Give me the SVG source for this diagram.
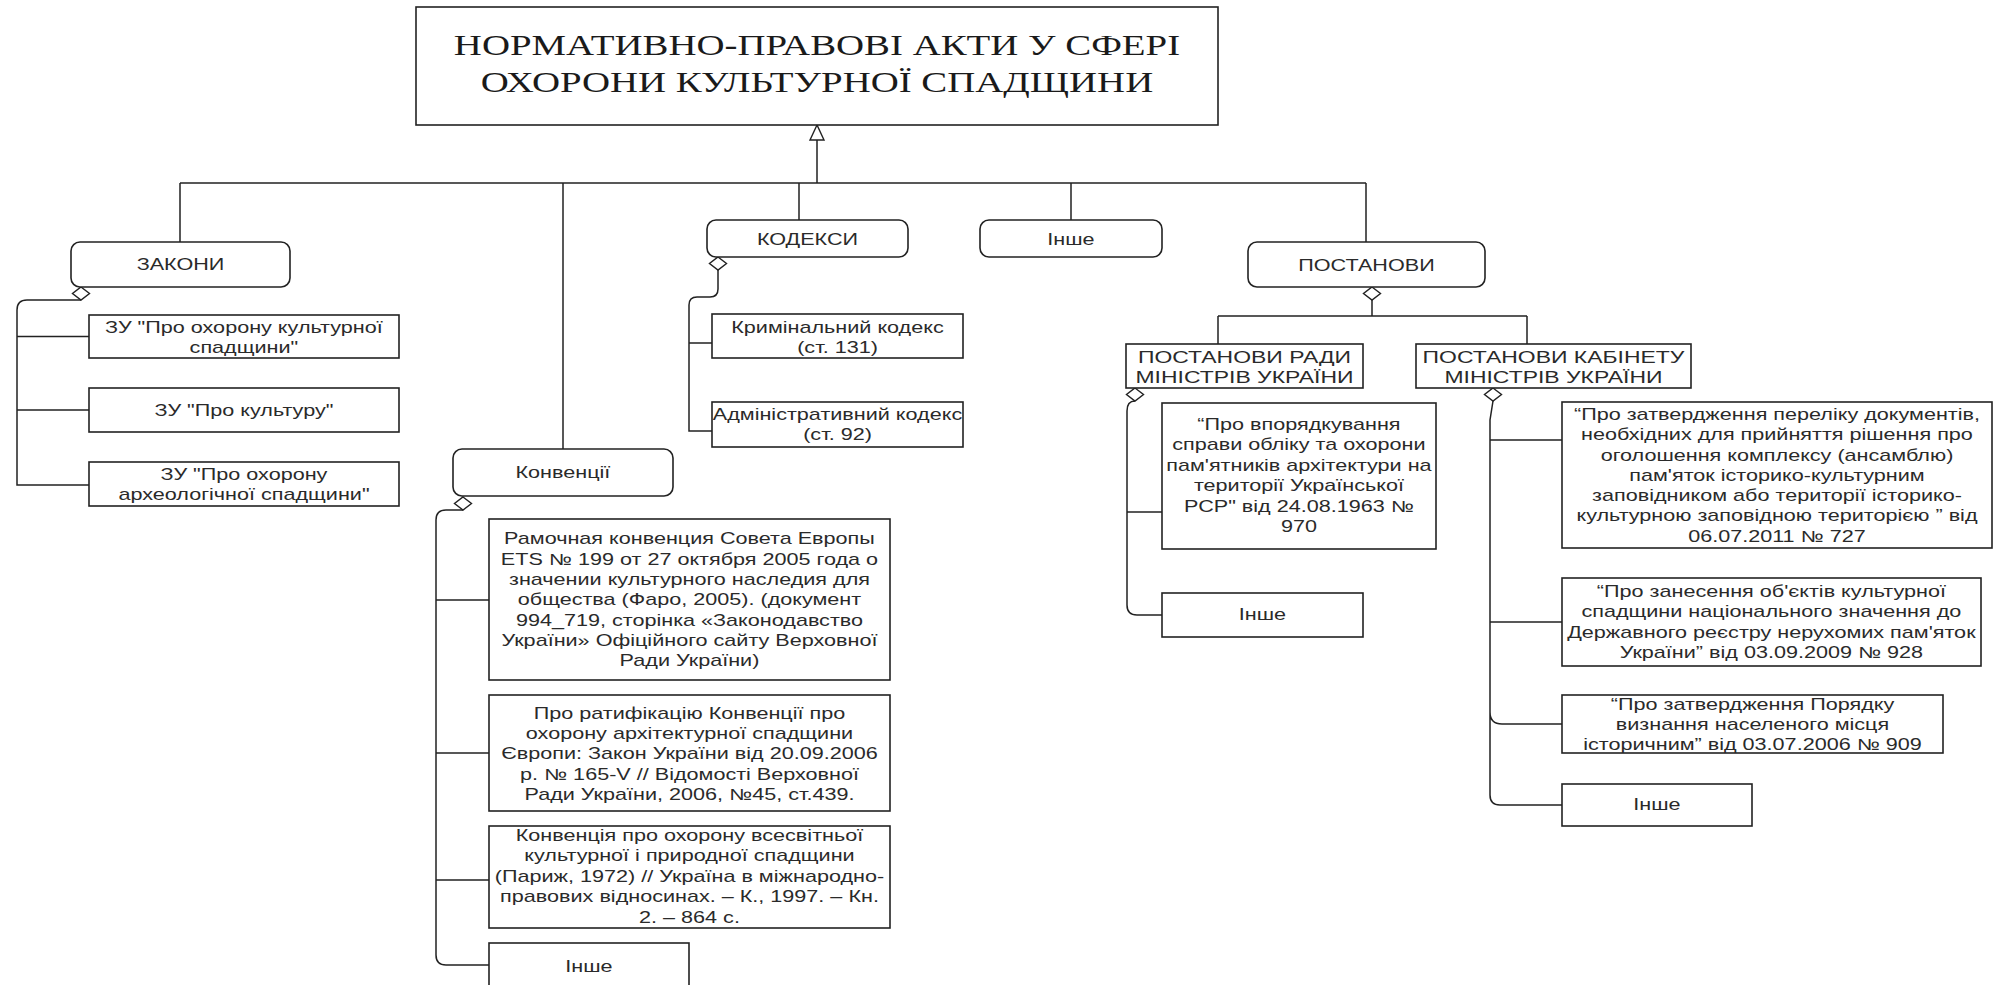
<svg xmlns="http://www.w3.org/2000/svg" width="1993" height="985" viewBox="0 0 1993 985">
<style>
.bx{fill:#fff;stroke:#222;stroke-width:1.6}
.c{fill:none;stroke:#222;stroke-width:1.5}
.mk{fill:#fff;stroke:#222;stroke-width:1.4}
text{font-family:"Liberation Sans",Arial,sans-serif;font-size:16px;fill:#2a2a2a;text-anchor:middle;transform-box:fill-box;transform-origin:center;transform:scaleX(1.35)}
text.ttl{font-family:"Liberation Serif","Times New Roman",serif;font-size:29px;fill:#1a1a1a;transform:scaleX(1.34)}
text.h17{font-size:17px}
</style>
<defs>
<polygon id="dia" class="mk" points="0,0 8.5,6.5 0,13 -8.5,6.5"/>
</defs>
<rect width="1993" height="985" fill="#fff"/>

<g id="connectors">
<polygon class="mk" points="817,125 810,140 824,140"/>
<path class="c" d="M817 140V183M180 183H1366M180 183V242M563 183V449M799 183V220M1071 183V220M1366 183V242"/>
<path class="c" d="M1372 300V316M1218 316H1527M1218 316V344M1527 316V344"/>
<path class="c" d="M81 300H27Q17 300 17 310V485H89M17 336.5H89M17 410H89"/>
<path class="c" d="M718 270V289Q718 297 710 297H697Q689 297 689 305V431H712M689 343H712"/>
<path class="c" d="M463 510H446Q436 510 436 520V955Q436 965 446 965H489M436 600H489M436 753H489M436 880H489"/>
<path class="c" d="M1135 401Q1127 401 1127 411V605Q1127 615 1137 615H1162M1127 512H1162"/>
<path class="c" d="M1493 401L1490 420V795Q1490 805 1500 805H1562M1490 440H1562M1490 622H1562M1490 712Q1490 724 1502 724H1562"/>
<use href="#dia" x="1372" y="287"/>
<use href="#dia" x="81" y="287"/>
<use href="#dia" x="718" y="257"/>
<use href="#dia" x="463" y="497"/>
<use href="#dia" x="1135" y="388"/>
<use href="#dia" x="1493" y="388"/>
</g>

<g id="title">
<rect class="bx" x="416" y="7" width="802" height="118"/>
<text class="ttl"><tspan x="817" y="55">НОРМАТИВНО-ПРАВОВІ АКТИ У СФЕРІ</tspan><tspan x="817" y="92">ОХОРОНИ КУЛЬТУРНОЇ СПАДЩИНИ</tspan></text>
</g>

<g id="zakony">
<rect class="bx" x="71" y="242" width="219" height="45" rx="9"/>
<text x="180.5" y="270">ЗАКОНИ</text>
</g>
<g id="zu1">
<rect class="bx" x="89" y="315" width="310" height="43"/>
<text><tspan x="244" y="333">ЗУ "Про охорону культурної</tspan><tspan x="244" y="353">спадщини"</tspan></text>
</g>
<g id="zu2">
<rect class="bx" x="89" y="388" width="310" height="44"/>
<text x="244" y="416">ЗУ "Про культуру"</text>
</g>
<g id="zu3">
<rect class="bx" x="89" y="462" width="310" height="44"/>
<text><tspan x="244" y="480">ЗУ "Про охорону</tspan><tspan x="244" y="500">археологічної спадщини"</tspan></text>
</g>

<g id="kodeksy">
<rect class="bx" x="707" y="220" width="201" height="37" rx="9"/>
<text x="807.5" y="245">КОДЕКСИ</text>
</g>
<g id="kk">
<rect class="bx" x="712" y="314" width="251" height="44"/>
<text><tspan x="837.5" y="333">Кримінальний кодекс</tspan><tspan x="837.5" y="353">(ст. 131)</tspan></text>
</g>
<g id="kupap">
<rect class="bx" x="712" y="402" width="251" height="45"/>
<text><tspan x="837.5" y="420">Адміністративний кодекс</tspan><tspan x="837.5" y="440">(ст. 92)</tspan></text>
</g>

<g id="inshe-top">
<rect class="bx" x="980" y="220" width="182" height="37" rx="9"/>
<text x="1071" y="245">Інше</text>
</g>

<g id="konventsii">
<rect class="bx" x="453" y="449" width="220" height="47" rx="9"/>
<text x="563" y="478">Конвенції</text>
</g>
<g id="faro">
<rect class="bx" x="489" y="519" width="401" height="161"/>
<text><tspan x="689.5" y="544.5">Рамочная конвенция Совета Европы</tspan><tspan x="689.5" y="564.8">ETS № 199 от 27 октября 2005 года о</tspan><tspan x="689.5" y="585.1">значении культурного наследия для</tspan><tspan x="689.5" y="605.4">общества (Фаро, 2005). (документ</tspan><tspan x="689.5" y="625.7">994_719, сторінка «Законодавство</tspan><tspan x="689.5" y="646">України» Офіційного сайту Верховної</tspan><tspan x="689.5" y="666.3">Ради України)</tspan></text>
</g>
<g id="ratyf">
<rect class="bx" x="489" y="695" width="401" height="116"/>
<text><tspan x="689.5" y="719">Про ратифікацію Конвенції про</tspan><tspan x="689.5" y="739.2">охорону архітектурної спадщини</tspan><tspan x="689.5" y="759.4">Європи: Закон України від 20.09.2006</tspan><tspan x="689.5" y="779.6">р. № 165-V //  Відомості Верховної</tspan><tspan x="689.5" y="799.8">Ради України, 2006, №45, ст.439.</tspan></text>
</g>
<g id="unesco">
<rect class="bx" x="489" y="826" width="401" height="102"/>
<text><tspan x="689.5" y="841">Конвенція про охорону всесвітньої</tspan><tspan x="689.5" y="861.5">культурної і природної спадщини</tspan><tspan x="689.5" y="882">(Париж, 1972) // Україна в міжнародно-</tspan><tspan x="689.5" y="902.5">правових відносинах. – К., 1997. – Кн.</tspan><tspan x="689.5" y="923">2. – 864 с.</tspan></text>
</g>
<g id="inshe-konv">
<rect class="bx" x="489" y="943" width="200" height="55"/>
<text x="589" y="972">Інше</text>
</g>

<g id="postanovy">
<rect class="bx" x="1248" y="242" width="237" height="45" rx="9"/>
<text x="1366.5" y="271">ПОСТАНОВИ</text>
</g>
<g id="rada">
<rect class="bx" x="1126" y="344" width="237" height="44"/>
<text class="h17"><tspan x="1244.5" y="363.5">ПОСТАНОВИ РАДИ</tspan><tspan x="1244.5" y="383.5">МІНІСТРІВ УКРАЇНИ</tspan></text>
</g>
<g id="vporiadk">
<rect class="bx" x="1162" y="403" width="274" height="146"/>
<text><tspan x="1299" y="430">“Про впорядкування</tspan><tspan x="1299" y="450.5">справи обліку та охорони</tspan><tspan x="1299" y="471">пам'ятників архітектури на</tspan><tspan x="1299" y="491.5">території Української</tspan><tspan x="1299" y="512">РСР" від 24.08.1963 №</tspan><tspan x="1299" y="532.5">970</tspan></text>
</g>
<g id="inshe-rada">
<rect class="bx" x="1162" y="593" width="201" height="44"/>
<text x="1262.5" y="620">Інше</text>
</g>

<g id="kabmin">
<rect class="bx" x="1416" y="344" width="275" height="44"/>
<text class="h17"><tspan x="1553.5" y="363.5">ПОСТАНОВИ КАБІНЕТУ</tspan><tspan x="1553.5" y="383.5">МІНІСТРІВ УКРАЇНИ</tspan></text>
</g>
<g id="km727">
<rect class="bx" x="1562" y="402" width="430" height="146"/>
<text><tspan x="1777" y="420">“Про затвердження переліку документів,</tspan><tspan x="1777" y="440.3">необхідних для прийняття рішення про</tspan><tspan x="1777" y="460.6">оголошення комплексу (ансамблю)</tspan><tspan x="1777" y="480.9">пам'яток історико-культурним</tspan><tspan x="1777" y="501.2">заповідником або території історико-</tspan><tspan x="1777" y="521.5">культурною заповідною територією ” від</tspan><tspan x="1777" y="541.8">06.07.2011 № 727</tspan></text>
</g>
<g id="km928">
<rect class="bx" x="1562" y="578" width="419" height="88"/>
<text><tspan x="1771.5" y="597">“Про занесення об'єктів культурної</tspan><tspan x="1771.5" y="617.5">спадщини національного значення до</tspan><tspan x="1771.5" y="638">Державного реєстру нерухомих пам'яток</tspan><tspan x="1771.5" y="658.5">України” від 03.09.2009 № 928</tspan></text>
</g>
<g id="km909">
<rect class="bx" x="1562" y="695" width="381" height="58"/>
<text><tspan x="1752.5" y="710">“Про затвердження Порядку</tspan><tspan x="1752.5" y="730">визнання населеного місця</tspan><tspan x="1752.5" y="750">історичним” від 03.07.2006 № 909</tspan></text>
</g>
<g id="inshe-km">
<rect class="bx" x="1562" y="784" width="190" height="42"/>
<text x="1657" y="810">Інше</text>
</g>
</svg>
